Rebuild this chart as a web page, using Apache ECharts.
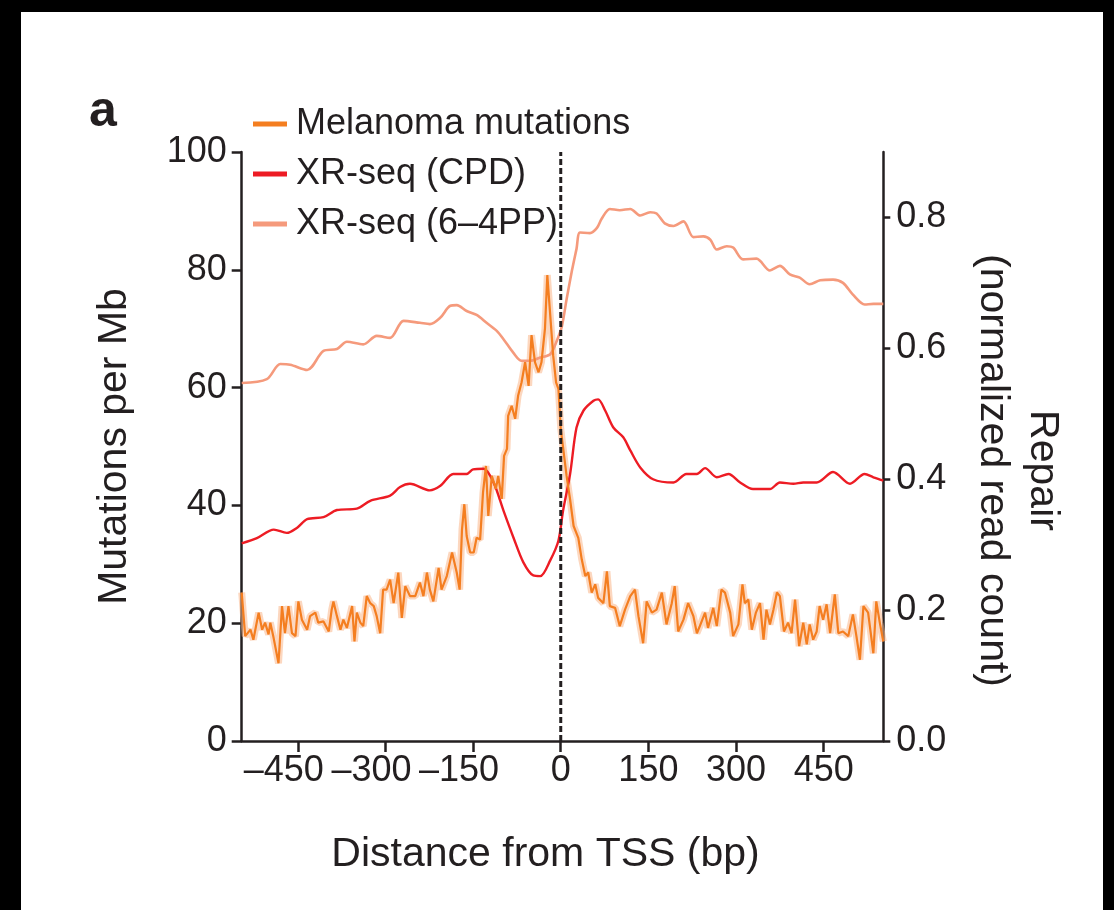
<!DOCTYPE html>
<html>
<head>
<meta charset="utf-8">
<script src="https://cdn.jsdelivr.net/npm/echarts@6/dist/echarts.min.js"></script>
<style>
  html, body { margin: 0; padding: 0; background: #000; }
  #frame { position: absolute; left: 21px; top: 12px; width: 1082px; height: 898px; background: #fff; }
  #chart { position: absolute; left: 0; top: 0; width: 1114px; height: 910px; }
</style>
</head>
<body>
<div id="frame"></div>
<div id="chart"></div>
<script>
// Distance from TSS (bp) and mutation rate (per Mb) for melanoma
const mutBp = [-546,-540,-531,-526,-517,-511,-506,-500,-497,-492,-483,-477,-472,-466,-460,-454,-449,-443,-434,-429,
  -420,-415,-406,-397,-392,-389,-383,-377,-372,-366,-357,-353,-349,-343,-338,-332,-326,-320,-315,-309,
  -304,-298,-292,-286,-278,-272,-266,-258,-249,-241,-235,-229,-224,-218,-209,-204,-195,-186,-178,-173,
  -169,-165,-161,-155,-149,-144,-138,-133,-128,-124,-118,-111,-107,-101,-97,-92,-90,-84,-78,-73,
  -67,-61,-55,-50,-44,-38,-33,-27,-23,-18,-13,-8,-4,0,5,10,16,22,30,36,
  42,47,53,59,64,73,79,84,93,101,110,119,127,133,141,147,156,164,173,181,
  190,195,201,210,218,227,233,238,247,252,261,267,275,281,290,295,304,311,315,321,
  327,334,341,347,352,358,364,370,375,382,389,395,401,408,415,421,426,432,438,443,
  449,455,461,469,475,483,492,500,506,512,518,526,535,540,546,552];
const mutRate = [25.2,17.8,18.9,17.2,21.8,18.9,20.1,18.1,20.1,17.8,13.2,22.9,18.3,22.9,18.3,17.8,23.7,20.6,18.9,21.2,
  21.8,20.1,20.3,18.6,22.3,23.7,21.2,18.9,20.6,19.2,22.9,16.9,21.8,20.1,19.5,24.6,23.4,22.9,21.2,18.3,
  25.7,25.7,27.4,23.4,28.6,20.9,26.3,24.6,24.6,26.9,24.6,28.6,25.7,23.7,29.4,25.7,28.0,32.0,28.6,25.7,
  35.9,40.2,34.8,32.0,32.0,34.5,34.2,42.2,46.7,38.2,45.0,42.8,45.0,41.1,48.4,49.6,55.2,56.9,54.7,58.6,
  60.9,64.3,60.3,68.9,64.3,62.6,64.3,70.0,79.1,72.3,65.5,60.9,59.8,53.0,49.0,45.0,41.0,36.5,34.5,30.8,
  28.0,28.6,25.2,26.6,24.3,23.4,28.8,22.9,22.6,19.5,22.3,24.6,25.7,21.2,16.6,23.7,21.8,22.3,25.2,19.8,
  23.4,26.3,18.6,20.6,23.4,21.2,18.3,19.5,21.8,19.2,22.6,19.5,25.7,25.2,21.8,17.8,19.8,26.6,23.4,24.0,
  18.9,21.8,23.4,17.2,22.3,19.8,22.3,25.2,24.6,18.6,20.1,18.3,24.0,16.1,20.1,16.4,19.8,17.2,18.6,22.9,
  20.6,23.2,18.3,24.9,18.3,18.6,17.8,21.5,17.8,13.8,22.9,21.8,14.9,23.7,20.1,16.9];

// XR-seq repair of CPD (normalized read count)
const cpdBp = [-546,-520,-491,-469,-451,-434,-406,-383,-349,-326,-292,-275,-258,-224,-206,-184,-161,-150,-132,-115,
  -98,-81,-64,-47,-35,-18,-4,4,16,27,39,56,64,76,90,107,119,136,158,193,
  215,233,247,267,287,307,329,358,375,398,415,438,466,495,520,535,552];
const cpdRepair = [0.302,0.310,0.323,0.318,0.326,0.339,0.342,0.353,0.355,0.367,0.375,0.388,0.393,0.383,0.390,0.408,0.408,0.415,0.416,0.395,
  0.352,0.311,0.273,0.253,0.252,0.276,0.306,0.352,0.408,0.479,0.505,0.520,0.522,0.505,0.479,0.464,0.444,0.418,0.400,0.395,
  0.408,0.408,0.417,0.403,0.408,0.395,0.385,0.385,0.395,0.393,0.395,0.395,0.411,0.393,0.408,0.403,0.398];

// XR-seq repair of (6-4)PP (normalized read count)
const ppBp = [-546,-503,-480,-463,-434,-406,-383,-366,-338,-315,-292,-269,-241,-224,-206,-189,-178,-161,-144,-127,
  -110,-98,-81,-67,-53,-35,-18,-7,2,10,19,27,33,50,62,70,84,101,119,136,
  153,164,178,193,210,227,244,256,267,284,295,312,335,358,375,392,409,426,444,466,
  483,500,520,535,552];
const ppRepair = [0.547,0.553,0.576,0.575,0.567,0.596,0.599,0.610,0.606,0.619,0.616,0.642,0.639,0.637,0.647,0.665,0.666,0.657,0.651,0.639,
  0.627,0.614,0.593,0.581,0.581,0.586,0.591,0.611,0.634,0.675,0.718,0.752,0.777,0.776,0.784,0.798,0.813,0.811,0.813,0.803,
  0.808,0.806,0.791,0.787,0.794,0.770,0.771,0.766,0.751,0.756,0.754,0.736,0.737,0.719,0.726,0.713,0.708,0.698,0.704,0.705,
  0.700,0.682,0.667,0.668,0.668];

// transcription start site marker, spanning the full left-axis range
const tssLine = [[0, 0], [0, 100]];

const xTicks = [-450, -300, -150, 0, 150, 300, 450];
const leftTicks = [0, 20, 40, 60, 80, 100];
const rightTicks = [0, 0.2, 0.4, 0.6, 0.8];

const seriesNames = ['Melanoma mutations', 'XR-seq (CPD)', 'XR-seq (6\u20134PP)'];
const seriesColors = ['#F47E20', '#ED1C24', '#F59A7C'];

const zip = (xs, ys) => xs.map((x, i) => [x, ys[i]]);
const FONT = "'Liberation Sans', Arial, Helvetica, sans-serif";
const INK = '#231f20';

const chart = echarts.init(document.getElementById('chart'), null, { renderer: 'canvas' });

chart.setOption({
  backgroundColor: 'transparent',
  animation: false,
  textStyle: { fontFamily: FONT, color: INK },
  graphic: [{
    type: 'text',
    left: 89,
    top: 87,
    style: { text: 'a', fontFamily: FONT, fontWeight: 'bold', fontSize: 50, fill: INK }
  }],
  legend: {
    data: seriesNames,
    orient: 'vertical',
    left: 253,
    top: 105,
    padding: 0,
    icon: 'rect',
    itemWidth: 34,
    itemHeight: 5,
    itemGap: 12,
    textStyle: { fontFamily: FONT, fontSize: 36, color: INK, lineHeight: 38, padding: [0, 0, 0, 4] }
  },
  grid: { left: 241.7, right: 230.7, top: 152, bottom: 169, containLabel: false, outerBoundsMode: 'none' },
  xAxis: {
    type: 'value',
    min: -546,
    max: 552,
    name: 'Distance from TSS (bp)',
    nameLocation: 'middle',
    nameGap: 93,
    nameTextStyle: { fontFamily: FONT, fontSize: 41, color: INK, padding: [0, 34, 0, 0] },
    splitLine: { show: false },
    axisLine: { onZero: false, lineStyle: { color: INK, width: 2.5 } },
    axisTick: { length: 11, lineStyle: { color: INK, width: 2.5 }, customValues: xTicks },
    axisLabel: {
      customValues: xTicks,
      margin: 12,
      fontFamily: FONT, fontSize: 36, color: INK,
      // negative labels sit with their digits over the tick
      formatter: v => v < 0 ? '{neg|\u2013' + Math.abs(v) + '}' : String(v),
      rich: { neg: { fontFamily: FONT, fontSize: 36, color: INK, padding: [0, 28, 0, 0] } }
    }
  },
  yAxis: [{
    type: 'value',
    min: 0,
    max: 100,
    interval: 20,
    position: 'left',
    name: 'Mutations per Mb',
    nameLocation: 'middle',
    nameRotate: 90,
    nameGap: 107,
    nameTextStyle: { fontFamily: FONT, fontSize: 41, color: INK },
    splitLine: { show: false },
    axisLine: { show: true, onZero: false, lineStyle: { color: INK, width: 2.5 } },
    axisTick: { show: true, length: 10, lineStyle: { color: INK, width: 2.5 }, customValues: leftTicks },
    axisLabel: { customValues: leftTicks, margin: 15, fontFamily: FONT, fontSize: 36, color: INK }
  }, {
    type: 'value',
    min: 0,
    max: 0.9,
    position: 'right',
    name: 'Repair\n(normalized read count)',
    nameLocation: 'middle',
    nameRotate: -90,
    nameGap: 84,
    nameTextStyle: { fontFamily: FONT, fontSize: 41, color: INK, lineHeight: 50, padding: [0, 0, 0, 48] },
    splitLine: { show: false },
    axisLine: { show: true, onZero: false, lineStyle: { color: INK, width: 2.5 } },
    axisTick: { show: true, length: 7, lineStyle: { color: INK, width: 2.5 }, customValues: rightTicks },
    axisLabel: {
      customValues: rightTicks, margin: 13, fontFamily: FONT, fontSize: 36, color: INK,
      formatter: v => v.toFixed(1)
    }
  }],
  series: [{
    name: 'TSS',
    type: 'line',
    data: tssLine,
    showSymbol: false,
    silent: true,
    z: 5,
    lineStyle: { color: INK, width: 3, type: [6, 3] }
  }, {
    // soft ribbon under the mutation trace
    name: 'mutation band',
    type: 'line',
    data: zip(mutBp, mutRate),
    showSymbol: false,
    silent: true,
    z: 1,
    lineStyle: { color: '#F9B68A', width: 7, opacity: 0.55 }
  }, {
    name: seriesNames[0],
    type: 'line',
    data: zip(mutBp, mutRate),
    showSymbol: false,
    z: 4,
    itemStyle: { color: seriesColors[0] },
    lineStyle: { color: seriesColors[0], width: 2.2 }
  }, {
    name: seriesNames[1],
    type: 'line',
    yAxisIndex: 1,
    data: zip(cpdBp, cpdRepair),
    showSymbol: false,
    smooth: 0.3,
    z: 3,
    itemStyle: { color: seriesColors[1] },
    lineStyle: { color: seriesColors[1], width: 2.4 }
  }, {
    name: seriesNames[2],
    type: 'line',
    yAxisIndex: 1,
    data: zip(ppBp, ppRepair),
    showSymbol: false,
    smooth: 0.3,
    z: 2,
    itemStyle: { color: seriesColors[2] },
    lineStyle: { color: seriesColors[2], width: 2.6 }
  }]
});
</script>
</body>
</html>
